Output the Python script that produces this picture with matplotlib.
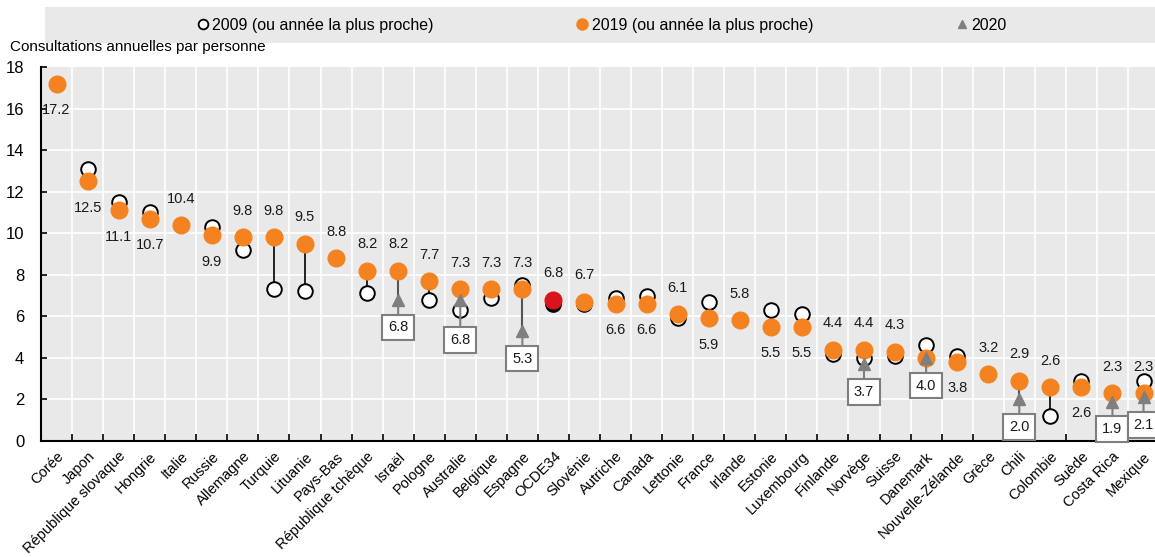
import numpy as np
import matplotlib.pyplot as plt
from matplotlib.lines import Line2D
from matplotlib.patches import Rectangle

plt.rcParams['font.family'] = ['Liberation Sans Narrow', 'Liberation Sans', 'DejaVu Sans']

# Data
pays = ["Corée", "Japon", "République slovaque", "Hongrie", "Italie", "Russie", "Allemagne",
        "Turquie", "Lituanie", "Pays-Bas", "République tchèque", "Israël", "Pologne", "Australie",
        "Belgique", "Espagne", "OCDE34", "Slovénie", "Autriche", "Canada", "Lettonie", "France",
        "Irlande", "Estonie", "Luxembourg", "Finlande", "Norvège", "Suisse", "Danemark",
        "Nouvelle-Zélande", "Grèce", "Chili", "Colombie", "Suède", "Costa Rica", "Mexique"]
v2019 = [17.2, 12.5, 11.1, 10.7, 10.4, 9.9, 9.8, 9.8, 9.5, 8.8, 8.2, 8.2, 7.7, 7.3, 7.3, 7.3,
         6.8, 6.7, 6.6, 6.6, 6.1, 5.9, 5.8, 5.5, 5.5, 4.4, 4.4, 4.3, 4.0, 3.8, 3.2, 2.9, 2.6,
         2.6, 2.3, 2.3]
v2009 = [np.nan, 13.1, 11.5, 11.0, np.nan, 10.3, 9.2, 7.3, 7.2, np.nan, 7.1, np.nan, 6.8, 6.3,
         6.9, 7.5, 6.6, 6.6, 6.9, 7.0, 5.9, 6.7, np.nan, 6.3, 6.1, 4.2, 4.0, 4.1, 4.6, 4.1,
         np.nan, np.nan, 1.2, 2.9, np.nan, 2.9]
# 2020 values: country -> value
v2020 = {"Israël": 6.8, "Australie": 6.8, "Espagne": 5.3, "Norvège": 3.7, "Danemark": 4.0,
         "Chili": 2.0, "Costa Rica": 1.9, "Mexique": 2.1}
# label position for the 2019 value: 1 = above, -1 = below, 0 = none
label_pos = [-1, -1, -1, -1, 1, -1, 1, 1, 1, 1, 1, 1, 1, 1, 1, 1, 1, 1, -1, -1, 1, -1, 1, -1,
             -1, 1, 1, 1, 0, -1, 1, 1, 1, -1, 1, 1]

orange = "#F58220"
grey_bg = "#E9E9E9"
x = np.arange(len(pays))
v2009 = np.array(v2009)
v2019 = np.array(v2019)
oecd = pays.index("OCDE34")

fig = plt.figure(figsize=(11.55, 5.57), dpi=100)
ax = fig.add_axes([0.0355, 0.2083, 0.968, 0.6714])
ax.set_facecolor(grey_bg)

# grid
for b in np.arange(0.5, len(pays) - 0.5, 1):
    ax.axvline(b, color="white", lw=1.2, zorder=0)
for yv in range(2, 18, 2):
    ax.axhline(yv, color="white", lw=1.2, zorder=0)

# vertical connectors
has09 = ~np.isnan(v2009)
ax.vlines(x[has09], np.minimum(v2009, v2019)[has09], np.maximum(v2009, v2019)[has09],
          color="black", lw=1.2, zorder=1)
for c, val in v2020.items():
    i = pays.index(c)
    ax.vlines(i, min(val, v2019[i]), max(val, v2019[i]), color="#555555", lw=1.5, zorder=1)

# 2009 markers
m = has09.copy()
m[oecd] = False
ax.plot(x[m], v2009[m], "o", ms=10.5, mfc="white", mec="black", mew=1.4, ls="none", zorder=2)
ax.plot(x[oecd], v2009[oecd], "o", ms=11, color="black", ls="none", zorder=2)

# 2019 markers
m2 = np.ones(len(pays), bool)
m2[oecd] = False
ax.plot(x[m2], v2019[m2], "o", ms=12, color=orange, ls="none", zorder=3)
ax.plot(x[oecd], v2019[oecd], "o", ms=12, color="#D9141C", ls="none", zorder=3)

# 2019 labels
for i, (val, p) in enumerate(zip(v2019, label_pos)):
    if p == 0:
        continue
    ax.annotate(f"{val:.1f}", (i, val), xytext=(0, 19 * p), textcoords="offset points",
                ha="center", va="center", fontsize=10.5, color="#1a1a1a", zorder=5)

# 2020 markers and boxed labels
box_off = {"Australie": -29}
for c, val in v2020.items():
    i = pays.index(c)
    ax.plot(i, val, "^", ms=8, color="#7f7f7f", zorder=4)
    ax.annotate(f"{val:.1f}", (i, val), xytext=(0, box_off.get(c, -20)),
                textcoords="offset points", ha="center", va="center", fontsize=10.5,
                color="#1a1a1a", zorder=6,
                bbox=dict(boxstyle="square,pad=0.4", fc="white", ec="#7f7f7f", lw=1.5),
                arrowprops=dict(arrowstyle="-", color="#7f7f7f", lw=1.5, shrinkA=0, shrinkB=3))

ax.set_xlim(-0.5, len(pays) - 0.5)
ax.set_ylim(0, 18)
ax.set_yticks(range(0, 19, 2))
ax.tick_params(axis="y", labelsize=12, length=4, direction="in", width=1.2, pad=12)
ax.set_xticks(x)
ax.set_xticklabels(pays, rotation=45, ha="right", rotation_mode="anchor", fontsize=10.5)
ax.tick_params(axis="x", length=0, pad=6)
ax.set_xticks(np.arange(0.5, len(pays) - 0.5, 1), minor=True)
ax.tick_params(axis="x", which="minor", length=5, direction="in", width=1.2)
for s in ["top", "right"]:
    ax.spines[s].set_visible(False)
for s in ["left", "bottom"]:
    ax.spines[s].set_linewidth(1.5)

fig.text(0.009, 0.915, "Consultations annuelles par personne", fontsize=11, va="center", ha="left")

# legend band
fig.patches.append(Rectangle((0.039, 0.923), 0.965, 0.064, transform=fig.transFigure,
                             facecolor=grey_bg, edgecolor="none", zorder=0))
handles = [Line2D([], [], marker="o", ls="none", ms=7, mfc="white", mec="black", mew=1.3),
           Line2D([], [], marker="o", ls="none", ms=8, color=orange),
           Line2D([], [], marker="^", ls="none", ms=6, color="#7f7f7f")]
labels = ["2009 (ou année la plus proche)", "2019 (ou année la plus proche)", "2020"]
fig.legend(handles, labels, loc="center", bbox_to_anchor=(0.520, 0.955), ncol=3,
           frameon=False, fontsize=11.5, handletextpad=0.1, handlelength=1.0,
           columnspacing=8.8)

fig.savefig("out.png", dpi=100)
